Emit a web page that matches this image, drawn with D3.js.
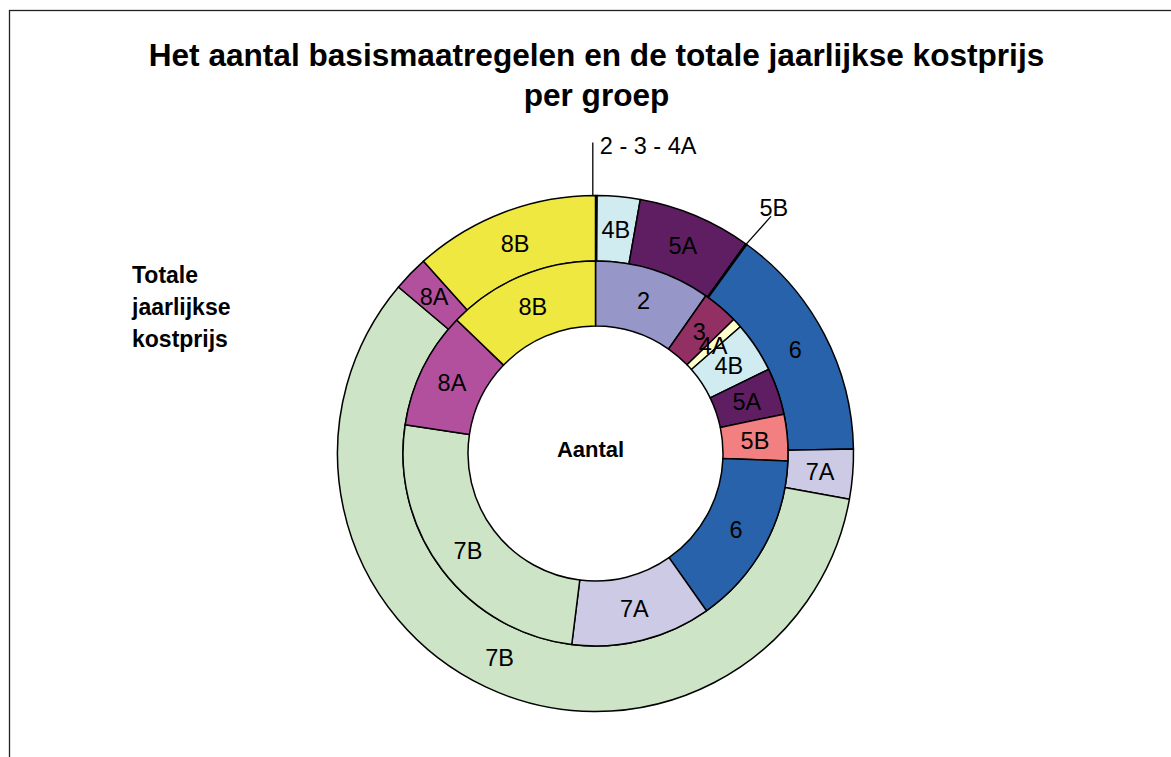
<!DOCTYPE html>
<html>
<head>
<meta charset="utf-8">
<script src="https://cdn.jsdelivr.net/npm/d3@7"></script>
<style>
  html, body { margin: 0; padding: 0; background: #fff; }
  svg { display: block; font-family: "Liberation Sans", Arial, sans-serif; }
</style>
</head>
<body>
<svg id="chart" width="1171" height="757"></svg>
<script>
// ---- data ----
const titleLines = ["Het aantal basismaatregelen en de totale jaarlijkse kostprijs", "per groep"];
const outerLabel = ["Totale", "jaarlijkse", "kostprijs"];
const innerLabel = "Aantal";

// outer ring: totale jaarlijkse kostprijs (% of total)
const outerCategories = ["2 - 3 - 4A", "4B", "5A", "5B", "6", "7A", "7B", "8A", "8B"];
const outerValues     = [0.10, 2.68, 7.11, 0.08, 14.75, 3.11, 58.33, 2.22, 11.61];

// inner ring: aantal basismaatregelen (% of total)
const innerCategories = ["2", "3", "4A", "4B", "5A", "5B", "6", "7A", "7B", "8A", "8B"];
const innerValues     = [9.72, 3.03, 0.81, 4.25, 3.92, 3.89, 14.61, 11.75, 25.42, 9.81, 12.81];

const colors = {
  "2": "#9696C8", "3": "#922F63", "4A": "#FFFFCC", "4B": "#D0ECF0",
  "5A": "#601E62", "5B": "#F38080", "6": "#2862AB", "7A": "#CCCAE4",
  "7B": "#CDE5C6", "8A": "#B2509E", "8B": "#EEE840", "2 - 3 - 4A": "#9696C8"
};

// ---- layout ----
const svg = d3.select("#chart");
const cx = 595.5, cy = 453.5;
const R = 258, Rm = 192.5, Ri = 127.5;

// border
svg.append("rect").attr("x", 9.5).attr("y", 10.5).attr("width", 1200).attr("height", 800)
  .attr("fill", "none").attr("stroke", "#222").attr("stroke-width", 1.3);

// title
svg.append("g").selectAll("text").data(titleLines).join("text")
  .attr("x", cx + 1).attr("y", (d, i) => 66 + i * 40)
  .attr("text-anchor", "middle").attr("font-weight", "bold").attr("font-size", 31.6)
  .text(d => d);

// side label
svg.append("g").selectAll("text").data(outerLabel).join("text")
  .attr("x", 132).attr("y", (d, i) => 283 + i * 32)
  .attr("font-weight", "bold").attr("font-size", 23).text(d => d);

const pie = d3.pie().sort(null).value(d => d.v).startAngle(0).endAngle(2 * Math.PI);
const outerData = pie(outerCategories.map((c, i) => ({ c, v: outerValues[i] })));
const innerData = pie(innerCategories.map((c, i) => ({ c, v: innerValues[i] })));

const outerArc = d3.arc().innerRadius(Rm).outerRadius(R);
const innerArc = d3.arc().innerRadius(Ri).outerRadius(Rm);

const g = svg.append("g").attr("transform", `translate(${cx},${cy})`);

g.append("g").selectAll("path").data(outerData).join("path")
  .attr("d", outerArc).attr("fill", d => colors[d.data.c])
  .attr("stroke", "#000").attr("stroke-width", 1.5).attr("stroke-linejoin", "round");

g.append("g").selectAll("path").data(innerData).join("path")
  .attr("d", innerArc).attr("fill", d => colors[d.data.c])
  .attr("stroke", "#000").attr("stroke-width", 1.5).attr("stroke-linejoin", "round");

// inner labels
g.append("g").selectAll("text").data(innerData).join("text")
  .attr("transform", d => `translate(${innerArc.centroid(d)})`)
  .attr("text-anchor", "middle").attr("dy", "0.36em").attr("font-size", 23.5)
  .text(d => d.data.c);

// outer labels (large slices inside, tiny slices with leader lines)
const tiny = d => (d.endAngle - d.startAngle) < 0.03;
g.append("g").selectAll("text").data(outerData.filter(d => !tiny(d))).join("text")
  .attr("transform", d => `translate(${outerArc.centroid(d)})`)
  .attr("text-anchor", "middle").attr("dy", "0.36em").attr("font-size", 23.5)
  .text(d => d.data.c);

const pt = (a, r) => [r * Math.sin(a), -r * Math.cos(a)];
outerData.filter(tiny).forEach((d, i) => {
  const a = (d.startAngle + d.endAngle) / 2;
  if (i === 0) {
    const p0 = pt(a, R);
    const x = p0[0] - 3.5;
    g.append("line").attr("x1", x).attr("y1", p0[1]).attr("x2", x).attr("y2", p0[1] - 53)
      .attr("stroke", "#000").attr("stroke-width", 1.3);
    g.append("text").attr("x", x + 7).attr("y", p0[1] - 42).attr("font-size", 23.5).text(d.data.c);
  } else {
    const p0 = pt(a, R), p1 = pt(a + 0.013, R + 37), p2 = pt(a + 0.003, R + 46);
    g.append("line").attr("x1", p0[0]).attr("y1", p0[1]).attr("x2", p1[0]).attr("y2", p1[1])
      .attr("stroke", "#000").attr("stroke-width", 1.3);
    g.append("text").attr("x", p2[0]).attr("y", p2[1]).attr("dy", "0.36em")
      .attr("text-anchor", "middle").attr("font-size", 23.5).text(d.data.c);
  }
});

// center label
svg.append("text").attr("x", cx - 5).attr("y", 457).attr("text-anchor", "middle")
  .attr("font-weight", "bold").attr("font-size", 22).text(innerLabel);
</script>
</body>
</html>
